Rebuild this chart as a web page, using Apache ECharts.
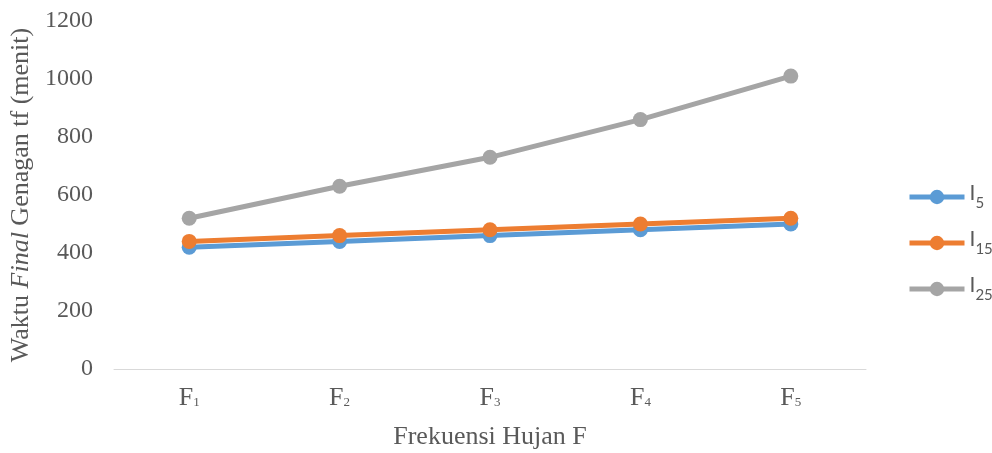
<!DOCTYPE html>
<html>
<head>
<meta charset="utf-8">
<script src="https://cdn.jsdelivr.net/npm/echarts@6/dist/echarts.min.js"></script>
<style>
  html, body { margin: 0; padding: 0; background: #ffffff; }
  #chart { width: 992px; height: 453px; }
</style>
</head>
<body>
<div id="chart"></div>
<script>
// Rainfall frequency categories (subscript index shown after F)
const categories = ['1', '2', '3', '4', '5'];

// Final inundation time tf (minutes) per rainfall intensity
const seriesNames = ['5', '15', '25'];
const valuesI5 = [420, 440, 460, 480, 500];
const valuesI15 = [440, 460, 480, 500, 520];
const valuesI25 = [520, 630, 730, 860, 1010];

const colors = ['#5B9BD5', '#ED7D31', '#A5A5A5'];
const serif = '"Liberation Serif", "Times New Roman", serif';
const sans = 'Lato, "Open Sans", sans-serif';
const textColor = '#595959';

const chart = echarts.init(document.getElementById('chart'));

const mkSeries = (sub, data, color) => ({
  name: sub,
  type: 'line',
  data: data,
  symbol: 'circle',
  symbolSize: 15,
  lineStyle: { width: 5, color: color },
  itemStyle: { color: color },
  emphasis: { disabled: true }
});

chart.setOption({
  animation: false,
  grid: { left: 114, right: 126, top: 21, bottom: 84, containLabel: false, outerBoundsMode: 'none' },
  legend: {
    orient: 'vertical',
    left: 907,
    top: 183,
    padding: 0,
    itemWidth: 55,
    itemHeight: 18,
    itemGap: 18,
    data: seriesNames.map((n, i) => ({
      name: n,
      lineStyle: { width: 5, color: colors[i] },
      itemStyle: { color: colors[i] }
    })),
    formatter: n => '{m|I}{s|' + n + '}',
    textStyle: {
      color: textColor,
      rich: {
        m: { fontFamily: sans, fontSize: 21, color: textColor, verticalAlign: 'top' },
        s: { fontFamily: sans, fontSize: 15, color: textColor, verticalAlign: 'top', padding: [13, 0, 0, 0] }
      }
    }
  },
  xAxis: {
    type: 'category',
    data: categories,
    boundaryGap: true,
    axisLine: { lineStyle: { color: '#D9D9D9', width: 1 } },
    axisTick: { show: false },
    axisLabel: {
      margin: 16,
      formatter: v => '{m|F}{s|' + v + '}',
      rich: {
        m: { fontFamily: serif, fontSize: 26, color: textColor, verticalAlign: 'top' },
        s: { fontFamily: serif, fontSize: 13, color: textColor, verticalAlign: 'top', padding: [11, 0, 0, 0] }
      }
    },
    name: 'Frekuensi Hujan F',
    nameLocation: 'middle',
    nameGap: 55,
    nameTextStyle: { fontFamily: serif, fontSize: 26, color: textColor }
  },
  yAxis: {
    type: 'value',
    min: 0,
    max: 1200,
    interval: 200,
    axisLine: { show: false },
    axisTick: { show: false },
    splitLine: { show: false },
    axisLabel: {
      margin: 21,
      fontFamily: serif,
      fontSize: 24,
      color: textColor,
      formatter: v => String(v)
    },
    name: '{n|Waktu }{i|Final}{n| Genagan tf (menit)}',
    nameLocation: 'middle',
    nameGap: 79,
    nameRotate: 90,
    nameTextStyle: {
      rich: {
        n: { fontFamily: serif, fontSize: 26, color: textColor },
        i: { fontFamily: serif, fontSize: 26, fontStyle: 'italic', color: textColor }
      }
    }
  },
  series: [
    mkSeries(seriesNames[0], valuesI5, colors[0]),
    mkSeries(seriesNames[1], valuesI15, colors[1]),
    mkSeries(seriesNames[2], valuesI25, colors[2])
  ]
});
</script>
</body>
</html>
